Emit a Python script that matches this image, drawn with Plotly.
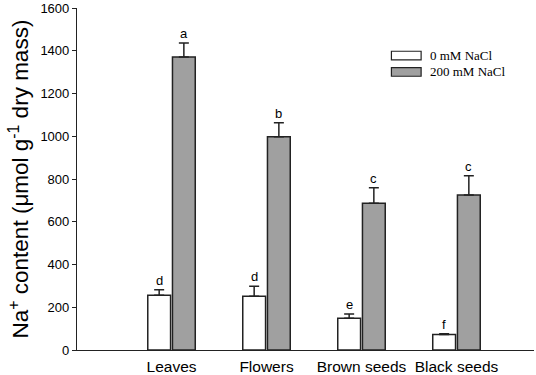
import plotly.graph_objects as go

categories = ["Leaves", "Flowers", "Brown seeds", "Black seeds"]
series_names = ["0 mM NaCl", "200 mM NaCl"]
values_0 = [256, 251, 148, 73]
errors_0 = [26, 47, 20, 3]
letters_0 = ["d", "d", "e", "f"]
values_200 = [1371, 998, 686, 725]
errors_200 = [65, 65, 73, 90]
letters_200 = ["a", "b", "c", "c"]
y_ticks = [0, 200, 400, 600, 800, 1000, 1200, 1400, 1600]

fills = ["#ffffff", "#a0a0a0"]
bar_w = 0.24
offsets = [-0.25, 0.01]
sans = "Liberation Sans, Arial, sans-serif"
serif = "Liberation Serif, Times New Roman, serif"

xs = list(range(len(categories)))
fig = go.Figure()
all_vals = [values_0, values_200]
all_errs = [errors_0, errors_200]
all_letters = [letters_0, letters_200]
for k in range(2):
    fig.add_trace(go.Bar(
        x=xs, y=all_vals[k], name=series_names[k],
        width=bar_w, offset=offsets[k],
        marker=dict(color=fills[k], line=dict(color="#222222", width=1.5)),
        error_y=dict(type="data", array=all_errs[k], symmetric=False,
                     arrayminus=[0] * len(xs), color="#222222",
                     thickness=1.5, width=5),
        showlegend=False,
    ))
    for i in xs:
        fig.add_annotation(
            x=i + offsets[k] + bar_w / 2, y=all_vals[k][i] + all_errs[k][i],
            text=all_letters[k][i], showarrow=False, yanchor="bottom",
            yshift=0, font=dict(family=sans, size=13, color="#000"),
        )

# custom legend (wide swatches like the original)
legend_y = [0.861, 0.813]
for k in range(2):
    fig.add_shape(type="rect", xref="paper", yref="paper",
                  x0=0.688, x1=0.753, y0=legend_y[k] - 0.0125, y1=legend_y[k] + 0.0125,
                  fillcolor=fills[k], line=dict(color="#222222", width=1.2))
    fig.add_annotation(xref="paper", yref="paper", x=0.768, y=legend_y[k],
                       text=series_names[k], showarrow=False, xanchor="left",
                       yanchor="middle",
                       font=dict(family=serif, size=13, color="#000"))

fig.update_layout(
    width=536, height=375,
    margin=dict(l=77, r=2, t=8, b=25, autoexpand=False),
    paper_bgcolor="white", plot_bgcolor="white",
    barmode="group",
    xaxis=dict(range=[-0.995, 3.816], tickvals=xs, ticktext=categories,
               showline=True, linecolor="#222222", linewidth=1.2,
               ticks="", showgrid=False, zeroline=False,
               ticklabelstandoff=2,
               tickfont=dict(family=sans, size=15.5, color="#000"),
               automargin=False),
    yaxis=dict(range=[0, 1600], tickvals=y_ticks,
               showline=True, linecolor="#222222", linewidth=1.2,
               ticks="outside", ticklen=4, tickcolor="#222222", tickwidth=1.2,
               showgrid=False, zeroline=False,
               tickfont=dict(family=sans, size=13, color="#000"),
               title=dict(text="Na<sup>+</sup> content (μmol g<sup>-1</sup> dry mass)",
                          font=dict(family=sans, size=22.5, color="#000"),
                          standoff=5),
               automargin=False),
    font=dict(family=sans),
)

fig.write_html("out.html", config={"displayModeBar": False},
               post_script="document.body.style.margin='0';")
